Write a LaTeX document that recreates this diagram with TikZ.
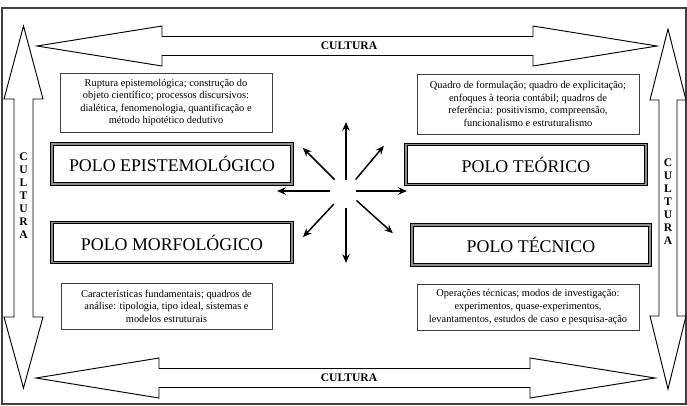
\documentclass[tikz,border=0pt]{standalone}
\usepackage{fontspec}
\setmainfont{Liberation Serif}
\definecolor{poloCinza}{HTML}{8C8C8C}
\definecolor{quadroLinha}{HTML}{404040}
\usetikzlibrary{
	arrows.meta,
	calc
}

\begin{document}
\begin{tikzpicture}[x=0.75pt, y=-0.75pt,
		quadro/.style={rectangle, draw=quadroLinha, line width=0.6pt, fill=white, align=center, inner sep=2pt, font=\fontsize{7.8}{9.4}\selectfont},
		polo/.style={rectangle, draw=black, double=poloCinza, double distance=0.8pt, line width=0.75pt, align=center, minimum width=180pt, minimum height=30pt, font=\fontsize{13.4}{15}\selectfont},
		seta/.style={draw=black, line width=0.7pt, fill=white, line join=miter},
		cultura/.style={font=\fontsize{8.7}{9.75}\selectfont\bfseries, align=center, inner sep=0pt},
		raio/.style={-{Stealth[length=6.5pt, width=5.5pt]}, line width=1.1pt}
	]
		\useasboundingbox (0,0) rectangle (687,405);
		\draw[line width=0.9pt, draw=black!75] (2,8) rectangle (686,404);
		% setas de cultura
		\draw[seta] (37,46) -- (162,26) -- (162,36.5) -- (533,36.5) -- (533,26) -- (657,46) -- (533,66) -- (533,55.5) -- (162,55.5) -- (162,66) -- cycle;
		\draw[seta] (36,378) -- (159,358) -- (159,368.5) -- (530,368.5) -- (530,358) -- (655,378) -- (530,398) -- (530,387.5) -- (159,387.5) -- (159,398) -- cycle;
		\draw[seta] (23.5,26) -- (43,99) -- (33,99) -- (33,317) -- (43,317) -- (23.5,388) -- (4,317) -- (14,317) -- (14,99) -- (4,99) -- cycle;
		\draw[seta] (668,29) -- (686,100) -- (677,100) -- (677,316) -- (686,316) -- (668,389) -- (650,316) -- (659,316) -- (659,100) -- (650,100) -- cycle;
		\node[cultura] (culturaTopo) at (349,46) {CULTURA};
		\node[cultura] (culturaBase) at (349,378) {CULTURA};
		\node[cultura] (culturaEsq) at (23.5,196) {C\\U\\L\\T\\U\\R\\A};
		\node[cultura] (culturaDir) at (668,202) {C\\U\\L\\T\\U\\R\\A};
		% quadros
		\node[quadro, minimum width=159pt, minimum height=44.25pt] (ruptura) at (166,102.5) {Ruptura epistemológica; construção do\\objeto científico; processos discursivos:\\dialética, fenomenologia, quantificação e\\método hipotético dedutivo};
		\node[quadro, minimum width=166.5pt, minimum height=45pt] (formulacao) at (528,104) {Quadro de formulação; quadro de explicitação;\\enfoques à teoria contábil; quadros de\\referência: positivismo, compreensão,\\funcionalismo e estruturalismo};
		\node[quadro, minimum width=158.25pt, minimum height=34.5pt] (caracteristicas) at (166.5,306) {Características fundamentais; quadros de\\análise: tipologia, tipo ideal, sistemas e\\modelos estruturais};
		\node[quadro, minimum width=166.5pt, minimum height=34.5pt] (operacoes) at (528,307) {Operações técnicas; modos de investigação:\\experimentos, quase-experimentos,\\levantamentos, estudos de caso e pesquisa-ação};
		% polos
		\node[polo] (epistemologico) at (172,164) {POLO EPISTEMOLÓGICO};
		\node[polo] (morfologico) at (172,242.5) {POLO MORFOLÓGICO};
		\node[polo] (teorico) at (526,164.5) {POLO TEÓRICO};
		\node[polo, minimum width=178.5pt] (tecnico) at (531,245) {POLO TÉCNICO};
		% raios do centro
		\coordinate (centro) at (346,191);
		\foreach \ang/\ini/\fim in {270/11/69, 90/17/72, 180/16/69, 0/10/61, 225/16/61, 310/15/59, 133/18/63, 42/14/63}
			\draw[raio] ($(centro)+(\ang:\ini)$) -- ($(centro)+(\ang:\fim)$);
	\end{tikzpicture}
\end{document}
